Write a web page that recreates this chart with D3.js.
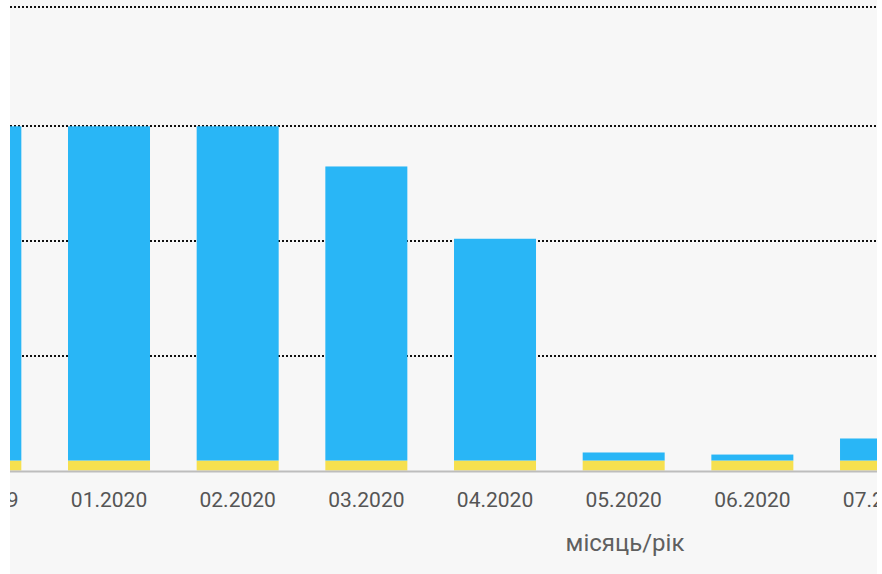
<!DOCTYPE html>
<html>
<head>
<meta charset="utf-8">
<script src="https://cdn.jsdelivr.net/npm/d3@7"></script>
<style>
  html, body { margin: 0; padding: 0; background: #fff; }
  svg { display: block; font-family: Roboto, "Noto Sans", sans-serif; }
</style>
</head>
<body>
<svg id="chart" width="882" height="574"></svg>
<script>
'use strict';

// visible part of the scrolled chart
var months = ['12.2019', '01.2020', '02.2020', '03.2020', '04.2020', '05.2020', '06.2020', '07.2020'];
var yellowValues = [87, 87, 87, 87, 87, 87, 87, 87];
var blueValues = [2913, 2913, 2913, 2563, 1933, 70, 52, 192];
var gridTicks = [1000, 2000, 3000];
var yMax = 4040;
var axisTitle = 'місяць/рік';

var svg = d3.select('#chart');
var plot = { left: 10, right: 877, top: 0, bottom: 574 };

svg.append('defs').append('clipPath')
    .attr('id', 'plot-clip')
  .append('rect')
    .attr('x', plot.left).attr('y', plot.top)
    .attr('width', plot.right - plot.left)
    .attr('height', plot.bottom - plot.top);

var g = svg.append('g').attr('clip-path', 'url(#plot-clip)');

g.append('rect')
    .attr('x', plot.left).attr('y', plot.top)
    .attr('width', plot.right - plot.left)
    .attr('height', plot.bottom - plot.top)
    .attr('fill', '#f7f7f7');

var step = 128.67;
var pad = (step - 82) / step;
var x = d3.scaleBand()
    .domain(months)
    .range([-84, -84 + step * months.length])
    .paddingInner(pad)
    .paddingOuter(pad / 2);

var y = d3.scaleLinear()
    .domain([0, yMax])
    .range([470.5, 7]);

// dotted grid
g.selectAll('line.grid')
    .data(gridTicks.concat([yMax]))
  .enter().append('line')
    .attr('class', 'grid')
    .attr('x1', plot.left).attr('x2', plot.right)
    .attr('y1', function (d) { return Math.round(y(d)); })
    .attr('y2', function (d) { return Math.round(y(d)); })
    .attr('stroke', '#111')
    .attr('stroke-width', 2)
    .attr('stroke-dasharray', '2,2');

var rows = months.map(function (m, i) {
    return { month: m, yellow: yellowValues[i], blue: blueValues[i] };
});
var stacked = d3.stack().keys(['yellow', 'blue'])(rows);
var colors = { yellow: '#f6e04f', blue: '#29b6f6' };

g.selectAll('g.series')
    .data(stacked)
  .enter().append('g')
    .attr('class', 'series')
    .attr('fill', function (s) { return colors[s.key]; })
  .selectAll('rect')
    .data(function (s) { return s; })
  .enter().append('rect')
    .attr('x', function (d) { return x(d.data.month); })
    .attr('width', x.bandwidth())
    .attr('y', function (d) { return y(d[1]); })
    .attr('height', function (d) { return y(d[0]) - y(d[1]); });

// baseline
g.append('line')
    .attr('x1', plot.left).attr('x2', plot.right)
    .attr('y1', 471.5).attr('y2', 471.5)
    .attr('stroke', '#bdbdbd')
    .attr('stroke-width', 2);

var xAxis = d3.axisBottom(x).tickSize(0).tickPadding(0);
var axisG = g.append('g')
    .attr('transform', 'translate(0,' + 492 + ')')
    .call(xAxis);
axisG.select('.domain').remove();
axisG.selectAll('text')
    .attr('dy', '0.71em')
    .attr('font-size', 21)
    .attr('font-family', 'Roboto, sans-serif')
    .attr('fill', '#555');

g.append('text')
    .attr('x', 625)
    .attr('y', 551)
    .attr('text-anchor', 'middle')
    .attr('font-size', 24)
    .attr('fill', '#5f5f5f')
    .text(axisTitle);
</script>
</body>
</html>
